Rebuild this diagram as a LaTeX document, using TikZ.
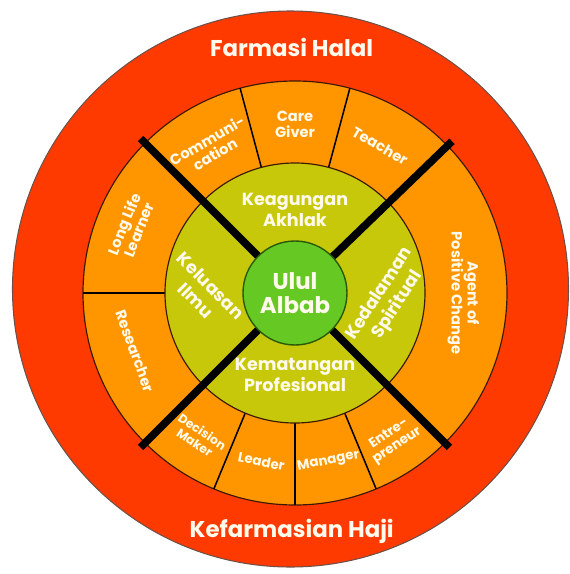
\documentclass[tikz,border=0pt]{standalone}
\usepackage{fontspec}
\setmainfont{Poppins}

\definecolor{ringred}{RGB}{255,58,0}
\definecolor{rededge}{RGB}{110,80,70}
\definecolor{ringorange}{RGB}{255,150,0}
\definecolor{ringolive}{RGB}{200,200,10}
\definecolor{coregreen}{RGB}{102,200,34}
\definecolor{coreedge}{RGB}{40,90,10}
\definecolor{darkline}{RGB}{60,25,5}
\definecolor{txtcream}{RGB}{255,250,235}

\tikzset{
    titletext/.style={text=txtcream, font=\bfseries\fontsize{19.5}{21}\selectfont},
    segtext/.style={text=txtcream, align=center, font=\bfseries\fontsize{12.5}{13.5}\selectfont},
    smallseg/.style={segtext, font=\bfseries\fontsize{11.5}{12.5}\selectfont},
    ringtext/.style={text=txtcream, align=center, font=\bfseries\fontsize{15}{18}\selectfont},
    coretext/.style={text=txtcream, align=center, font=\bfseries\fontsize{19.5}{20}\selectfont},
    thinline/.style={draw=black, line width=1.3pt},
    bigline/.style={draw=black, line width=6.5pt}
}

\begin{document}
\begin{tikzpicture}
    \useasboundingbox (-8.85,-8.43) rectangle (8.25,8.79);

    % Outer ring
    \fill[ringred, draw=rededge, line width=0.9pt] (-0.135,0.12) circle (8.34);
    \node[titletext] (halal) at (-0.1,7.38) {Farmasi Halal};
    \node[titletext] (haji) at (-0.1,-7.14) {Kefarmasian Haji};

    % Orange ring with its segments
    \fill[ringorange, draw=darkline, line width=1pt] (0,0) circle (6.36);
    \foreach \a in {75,105,180,247.5,270,292.5}
        \draw[thinline] (\a:3.9) -- (\a:6.36);

    % Inner ring
    \fill[ringolive, draw=darkline, line width=1pt] (0,0) circle (3.9);

    % Thick dividers
    \foreach \a in {44,135,225,315}
        \draw[bigline] (\a:1.4) -- (\a:6.55);

    % Core
    \node[circle, fill=coregreen, draw=coreedge, line width=1.2pt,
          minimum size=3.12cm, coretext] (core) at (0,0) {Ulul\\Albab};

    % Inner ring labels
    \node[ringtext] (akhlak) at (90:2.5) {Keagungan\\Akhlak};
    \node[ringtext, rotate=57] (spiritual) at (-4:2.82) {Kedalaman\\Spiritual};
    \node[ringtext] (profesional) at (270:2.46) {Kematangan\\Profesional};
    \node[ringtext, rotate=-45] (ilmu) at (180:2.75) {Keluasan\\Ilmu};

    % Top segments
    \node[segtext, rotate=30] (comm) at (120:5.05) {Communi-\\cation};
    \node[segtext] (care) at (90:5.05) {Care\\Giver};
    \node[segtext, rotate=-30] (teacher) at (60:5.1) {Teacher};

    % Left segments
    \node[segtext, rotate=68] (lifelong) at (158:5.3) {Long Life\\Learner};
    \node[segtext, rotate=-70] (research) at (200:5.1) {Researcher};

    % Right segment
    \node[segtext, rotate=-90] (agent) at (0:5.05) {Agent of\\Positive Change};

    % Bottom segments
    \node[smallseg, font=\bfseries\fontsize{10.5}{11.5}\selectfont, rotate=-33.75] (decision) at (236.25:5.2) {Decision\\Maker};
    \node[smallseg, rotate=-11.25] (leader) at (258.75:5.15) {Leader};
    \node[smallseg, rotate=11.25] (manager) at (281.25:5.15) {Manager};
    \node[smallseg, rotate=33.75] (entre) at (303.75:5.3) {Entre-\\preneur};
\end{tikzpicture}
\end{document}
